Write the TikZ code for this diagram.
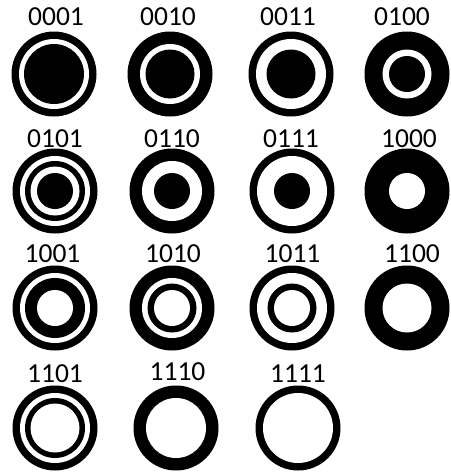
\documentclass[tikz,border=0pt]{standalone}
\usepackage{fontspec}
\setmainfont{Carlito}
\begin{document}
\begin{tikzpicture}[x=1pt,y=-1pt,
  lab/.style={anchor=base,inner sep=0pt,font=\fontsize{27.5}{32}\selectfont}]
\useasboundingbox (0,0) rectangle (450,474);
\foreach \a/\b/\c/\d/\cx/\cy/\lx/\ly [count=\i] in {
  0/0/0/1/54/74/56/25, 0/0/1/0/170/74/168/25, 0/0/1/1/291/74/288/25, 0/1/0/0/407/74/402/25,
  0/1/0/1/55/191/55/147, 0/1/1/0/172/191/172/147, 0/1/1/1/292/191/291/147, 1/0/0/0/407/191/409/147,
  1/0/0/1/55/308/52.5/262.5, 1/0/1/0/172/308/173/262.5, 1/0/1/1/292/308/292.5/262.5, 1/1/0/0/407/308/412/262.5,
  1/1/0/1/55/428/55/382, 1/1/1/0/176/428/177.5/380, 1/1/1/1/298/428/298/382}{
  \ifnum\d=1 \def\colD{white}\else\def\colD{black}\fi
  \ifnum\c=1 \def\colC{white}\else\def\colC{black}\fi
  \ifnum\b=1 \def\colB{white}\else\def\colB{black}\fi
  \ifnum\a=1 \def\colA{white}\else\def\colA{black}\fi
  \fill[black] (\cx,\cy) circle (42.5pt);
  \fill[\colD] (\cx,\cy) circle (35pt);
  \fill[\colC] (\cx,\cy) circle (30pt);
  \fill[\colB] (\cx,\cy) circle (24.5pt);
  \fill[\colA] (\cx,\cy) circle (18pt);
  \node[lab] (l\i) at (\lx,\ly) {\a\b\c\d};
}
\end{tikzpicture}
\end{document}
